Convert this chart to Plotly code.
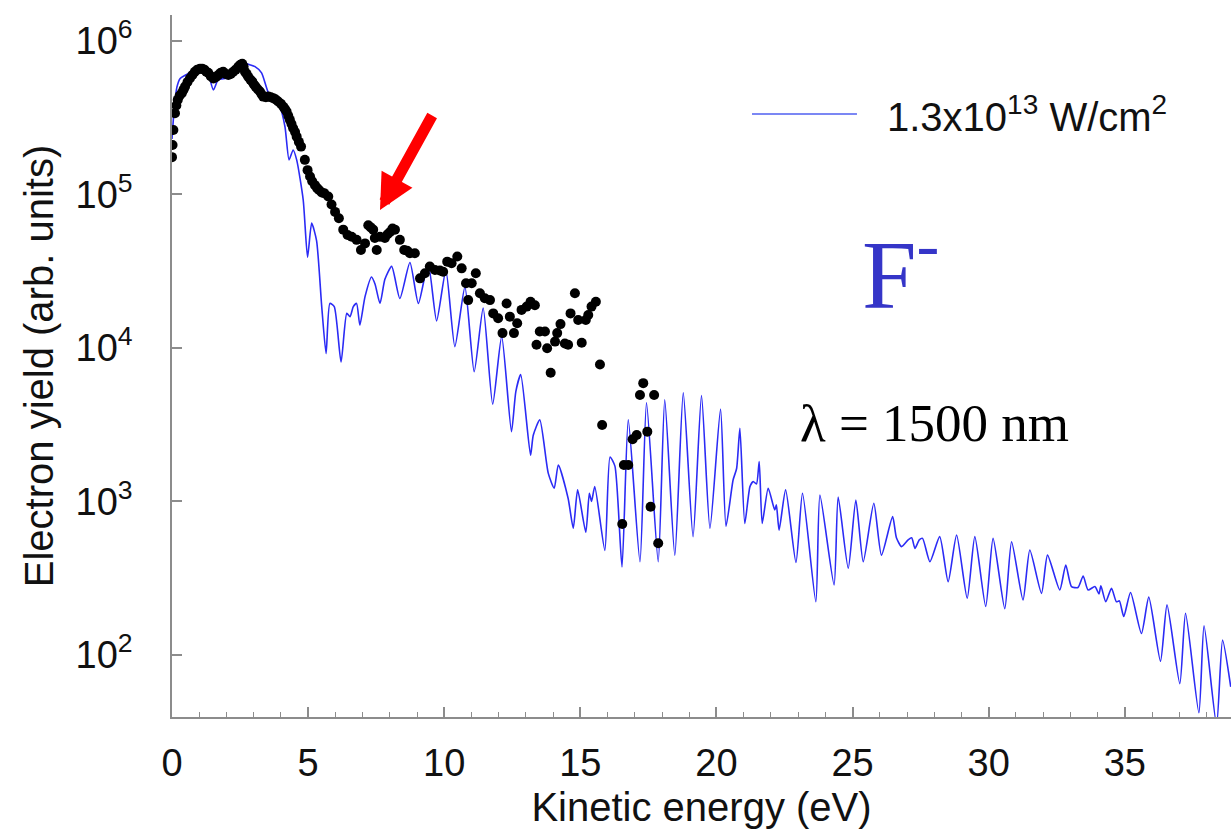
import plotly.graph_objects as go

# ---------------- data ----------------
# Theory curve (1.3x10^13 W/cm^2): kinetic energy (eV) and yield (arb. units)
theory_energy = [
    0.00, 0.08, 0.18, 0.30, 0.50, 0.70, 0.90, 1.09, 1.30, 1.52, 1.70, 1.95, 2.19, 2.45, 2.62,
    2.85, 3.05, 3.29, 3.54, 3.78, 3.97, 4.15, 4.30, 4.45, 4.58, 4.82, 4.98, 5.13, 5.31, 5.50,
    5.66, 5.80, 5.96, 6.21, 6.42, 6.54, 6.66, 6.78, 6.90, 7.09, 7.33, 7.46, 7.64, 7.82, 8.07,
    8.37, 8.74, 9.05, 9.41, 9.72, 10.06, 10.39, 10.76, 11.10, 11.43, 11.78, 12.11, 12.47, 12.63,
    12.81, 13.17, 13.27, 13.51, 13.82, 14.04, 14.19, 14.55, 14.74, 14.90, 15.20, 15.33, 15.41,
    15.53, 15.90, 16.09, 16.27, 16.53, 16.76, 17.19, 17.43, 17.86, 18.10, 18.47, 18.78, 19.14,
    19.45, 19.76, 20.15, 20.35, 20.61, 20.74, 20.86, 21.04, 21.23, 21.35, 21.47, 21.57, 21.68,
    21.90, 22.14, 22.20, 22.30, 22.54, 22.92, 23.16, 23.65, 23.80, 24.32, 24.47, 24.84, 25.12,
    25.39, 25.78, 26.06, 26.47, 26.61, 26.80, 27.04, 27.17, 27.29, 27.45, 27.57, 27.84, 28.20,
    28.51, 28.82, 29.21, 29.49, 29.89, 30.16, 30.59, 30.84, 31.26, 31.51, 31.94, 32.16, 32.61,
    32.83, 33.04, 33.28, 33.47, 33.65, 33.90, 34.05, 34.12, 34.30, 34.51, 34.69, 34.80, 34.96,
    35.21, 35.61, 35.88, 36.31, 36.55, 37.02, 37.23, 37.72, 37.91, 38.37, 38.59, 38.89,
]
theory_yield = [
    2.3e5, 3.6e5, 5.0e5, 5.7e5, 6.0e5, 6.3e5, 6.8e5, 7.0e5, 6.4e5, 4.8e5, 5.6e5, 5.7e5, 5.8e5, 6.8e5, 7.2e5,
    7.0e5, 6.8e5, 6.2e5, 4.6e5, 4.1e5, 3.7e5, 2.76e5, 1.68e5, 1.95e5, 1.68e5, 9.2e4, 3.9e4, 6.5e4, 5.0e4, 1.86e4,
    9.2e3, 1.95e4, 1.86e4, 8.1e3, 1.68e4, 1.6e4, 1.86e4, 1.95e4, 1.41e4, 2.16e4, 2.9e4, 2.6e4, 1.95e4, 2.8e4, 3.4e4,
    2.1e4, 3.6e4, 1.95e4, 3.55e4, 1.5e4, 3.2e4, 1.02e4, 2.5e4, 7.0e3, 1.82e4, 4.3e3, 1.19e4, 2.85e3, 5.2e3,
    6.7e3, 2.0e3, 2.7e3, 3.4e3, 1.53e3, 1.22e3, 1.73e3, 1.05e3, 670, 1.19e3, 630, 1.13e3, 1.0e3,
    1.25e3, 480, 1.95e3, 1.7e3, 375, 3.4e3, 405, 4.4e3, 405, 4.6e3, 445, 5.1e3, 590,
    4.9e3, 670, 4.0e3, 690, 1.38e3, 1.64e3, 3.0e3, 720, 1.25e3, 1.35e3, 1.3e3, 1.82e3, 720,
    1.22e3, 880, 950, 650, 1.19e3, 400, 1.13e3, 222, 1.10e3, 286, 1.07e3, 367, 1.02e3,
    405, 973, 447, 797, 580, 508, 562, 580, 495, 562, 575, 405, 590,
    300, 605, 234, 590, 207, 575, 200, 547, 228, 483, 252, 447, 265,
    386, 279, 275, 327, 265, 279, 250, 282, 222, 272, 222, 225, 178,
    255, 138, 238, 91, 212, 65, 187, 42, 155, 35, 125, 62,
]

# Experimental points
exp_energy = [
    0.00, 0.02, 0.05, 0.11, 0.16, 0.21, 0.28, 0.36, 0.42, 0.48, 0.57, 0.66, 0.75, 0.84, 0.93,
    1.03, 1.11, 1.19, 1.26, 1.33, 1.42, 1.52, 1.61, 1.70, 1.79, 1.88, 1.97, 2.07, 2.16, 2.25,
    2.34, 2.44, 2.51, 2.58, 2.63, 2.68, 2.74, 2.80, 2.88, 2.95, 3.01, 3.07, 3.15, 3.23, 3.29,
    3.35, 3.45, 3.54, 3.63, 3.72, 3.81, 3.90, 4.00, 4.09, 4.15, 4.21, 4.27, 4.33, 4.39, 4.45,
    4.52, 4.58, 4.66, 4.74, 4.88, 4.98, 5.07, 5.15, 5.25, 5.33, 5.40, 5.50, 5.59, 5.74, 5.86,
    5.99, 6.13, 6.29, 6.45, 6.60, 6.78, 6.94, 7.09, 7.21, 7.30, 7.39, 7.45, 7.52, 7.64, 7.82,
    7.92, 8.01, 8.10, 8.19, 8.37, 8.53, 8.64, 8.74, 8.92, 9.11, 9.29, 9.47, 9.66, 9.84, 9.96,
    10.11, 10.27, 10.48, 10.64, 10.80, 10.88, 11.01, 11.16, 11.31, 11.49, 11.68, 11.80, 11.98,
    12.14, 12.29, 12.41, 12.56, 12.68, 12.84, 13.03, 13.17, 13.33, 13.39, 13.51, 13.70, 13.78,
    13.91, 14.07, 14.15, 14.27, 14.43, 14.55, 14.64, 14.80, 14.92, 15.05, 15.20, 15.29, 15.41,
    15.57, 15.72, 15.80, 16.54, 16.60, 16.76, 16.92, 17.07, 17.19, 17.31, 17.46, 17.58, 17.71,
    17.86,
]
exp_yield = [
    1.75e5, 2.1e5, 2.63e5, 3.38e5, 3.8e5, 4.13e5, 4.4e5, 4.57e5, 4.8e5, 5.04e5, 5.4e5, 5.71e5, 6.0e5, 6.3e5, 6.5e5,
    6.6e5, 6.6e5, 6.5e5, 6.3e5, 6.2e5, 5.9e5, 5.7e5, 5.8e5, 6.0e5, 6.2e5, 6.3e5, 6.1e5, 6.0e5, 6.1e5, 6.3e5,
    6.5e5, 6.8e5, 7.0e5, 7.1e5, 6.8e5, 6.3e5, 6.1e5, 5.85e5, 5.6e5, 5.43e5, 5.2e5, 5.04e5, 4.85e5, 4.68e5, 4.5e5,
    4.34e5, 4.3e5, 4.34e5, 4.3e5, 4.24e5, 4.15e5, 4.03e5, 3.9e5, 3.73e5, 3.6e5, 3.47e5, 3.25e5, 3.06e5, 2.88e5, 2.7e5,
    2.55e5, 2.38e5, 2.2e5, 2.05e5, 1.68e5, 1.44e5, 1.31e5, 1.22e5, 1.15e5, 1.1e5, 1.07e5, 1.03e5, 1.02e5, 9.7e4, 8.6e4,
    7.7e4, 7.0e4, 5.9e4, 5.45e4, 5.3e4, 5.06e4, 4.35e4, 4.8e4, 6.3e4, 6.1e4, 5.9e4, 5.2e4, 4.35e4, 5.3e4, 5.2e4,
    5.5e4, 5.7e4, 6.0e4, 5.9e4, 5.06e4, 4.35e4, 4.3e4, 4.14e4, 4.14e4, 2.84e4, 3.07e4, 3.39e4, 3.22e4, 3.2e4, 3.14e4,
    3.65e4, 3.56e4, 3.94e4, 3.3e4, 2.64e4, 2.05e4, 2.64e4, 3.07e4, 2.27e4, 2.11e4, 2.05e4, 1.68e4, 1.56e4,
    1.25e4, 1.95e4, 1.6e4, 1.25e4, 1.45e4, 1.77e4, 1.86e4, 2.0e4, 1.9e4, 1.05e4, 1.28e4, 1.28e4, 9.95e3,
    6.9e3, 1.1e4, 1.25e4, 1.43e4, 1.07e4, 1.05e4, 1.68e4, 2.27e4, 1.52e4, 1.08e4, 1.52e4, 1.64e4, 1.86e4,
    2.0e4, 7.8e3, 3.15e3, 713, 1.73e3, 1.73e3, 2.54e3, 2.71e3, 4.94e3, 5.9e3, 2.85e3, 925, 4.94e3,
    535,
]

y_tick_values = [1e2, 1e3, 1e4, 1e5, 1e6]
y_tick_labels = ["10<sup>2</sup>", "10<sup>3</sup>", "10<sup>4</sup>", "10<sup>5</sup>", "10<sup>6</sup>"]
x_tick_values = [0, 5, 10, 15, 20, 25, 30, 35]

legend_label = "1.3x10<sup>13</sup> W/cm<sup>2</sup>"
ion_label = "F<sup>-</sup>"
wavelength_label = "λ = 1500 nm"

# ---------------- figure ----------------
SANS = "Liberation Sans, Arial, Helvetica, sans-serif"
SERIF = "Liberation Serif, Times New Roman, serif"
AXIS_COLOR = "#8c8c8c"
X_RANGE = [0, 38.9]

fig = go.Figure()
fig.add_trace(go.Scatter(
    x=theory_energy, y=theory_yield, mode="lines",
    line=dict(color="#2b2bf5", width=1.6, shape="spline", smoothing=0.6), showlegend=False,
))
fig.add_trace(go.Scatter(
    x=exp_energy, y=exp_yield, mode="markers",
    marker=dict(color="black", size=10, line=dict(width=0)), showlegend=False,
))

fig.update_layout(
    width=1231, height=829,
    margin=dict(l=172, r=0, t=15, b=112),
    paper_bgcolor="white", plot_bgcolor="white",
    font=dict(family=SANS, color="#111111"),
    xaxis=dict(
        range=X_RANGE, tickvals=x_tick_values,
        ticks="inside", ticklen=10, tickwidth=1.5, tickcolor=AXIS_COLOR,
        minor=dict(dtick=1, ticks="inside", ticklen=5, tickwidth=1.2, tickcolor=AXIS_COLOR),
        showline=True, linecolor=AXIS_COLOR, linewidth=1.5,
        showgrid=False, zeroline=False,
        tickfont=dict(size=38, family=SANS, color="#111111"),
        ticklabelstandoff=12,
        title=dict(text="Kinetic energy (eV)", font=dict(size=40, family=SANS, color="#111111"), standoff=14),
    ),
    xaxis2=dict(
        range=X_RANGE, tickvals=x_tick_values, overlaying="x", side="top", anchor="y",
        ticks="inside", ticklen=10, tickwidth=1.5, tickcolor=AXIS_COLOR,
        minor=dict(dtick=1, ticks="inside", ticklen=5, tickwidth=1.2, tickcolor=AXIS_COLOR),
        showline=True, linecolor=AXIS_COLOR, linewidth=1.5,
        showgrid=False, zeroline=False, showticklabels=False,
    ),
    yaxis=dict(
        type="log", range=[1.596, 6.169],
        tickvals=y_tick_values, ticktext=y_tick_labels,
        ticks="inside", ticklen=10, tickwidth=1.5, tickcolor=AXIS_COLOR,
        showline=True, linecolor=AXIS_COLOR, linewidth=1.5,
        showgrid=False, zeroline=False,
        tickfont=dict(size=38, family=SANS, color="#111111"),
        ticklabelstandoff=30,
        title=dict(text="Electron yield (arb. units)", font=dict(size=40, family=SANS, color="#111111"), standoff=10),
    ),
)

# legend drawn by hand (long sample line)
fig.add_shape(type="line", xref="paper", yref="paper",
              x0=0.5477, x1=0.6468, y0=0.859, y1=0.859,
              line=dict(color="#4f5ff0", width=1.5))
fig.add_annotation(text=legend_label, xref="paper", yref="paper", x=0.673, y=0.859,
                   xanchor="left", yanchor="middle", showarrow=False,
                   font=dict(size=40, family=SANS, color="#111111"))

fig.add_annotation(text=ion_label, xref="paper", yref="paper", x=0.650, y=0.64,
                   xanchor="left", yanchor="middle", showarrow=False,
                   font=dict(size=98, family=SERIF, color="#3535c8"))
fig.add_annotation(text=wavelength_label, xref="paper", yref="paper", x=0.591, y=0.4188,
                   xanchor="left", yanchor="middle", showarrow=False,
                   font=dict(size=53, family=SERIF, color="black"))

# red arrow
fig.add_annotation(text="", xref="paper", yref="paper", x=0.1964, y=0.7222,
                   ax=53, ay=-96, showarrow=True, arrowhead=2, arrowsize=0.64,
                   arrowwidth=11, arrowcolor="#ff0000", standoff=0)

fig.write_html("out.html")
